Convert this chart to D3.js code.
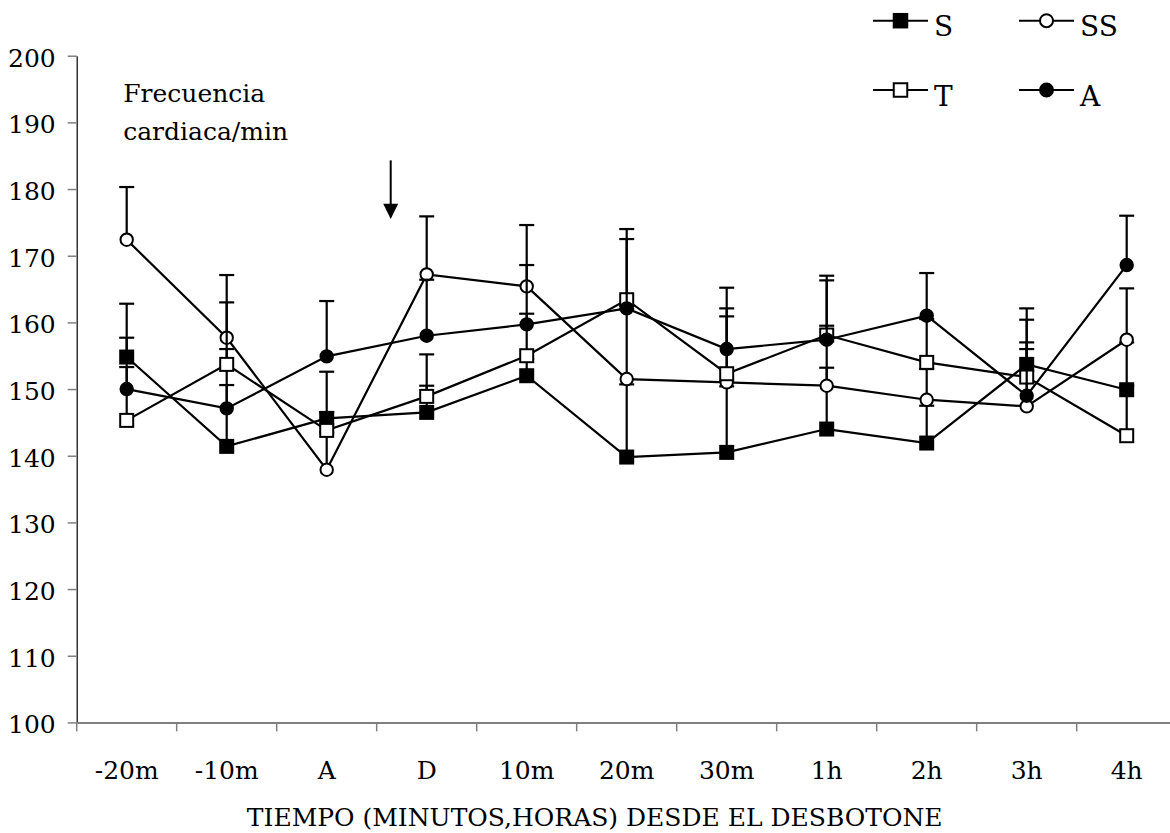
<!DOCTYPE html>
<html>
<head>
<meta charset="utf-8">
<script src="https://cdn.jsdelivr.net/npm/d3@7"></script>
<style>
  html, body { margin: 0; padding: 0; background: #fff; }
  svg { display: block; }
  text { font-family: "DejaVu Serif", "Liberation Serif", serif; fill: #000; }
</style>
</head>
<body>
<svg id="chart" width="1170" height="833"></svg>
<script>
// ---- Data ----
const categories = ["-20m", "-10m", "A", "D", "10m", "20m", "30m", "1h", "2h", "3h", "4h"];
const seriesNames = ["S", "SS", "T", "A"];

const sValues  = [154.8, 141.4, 145.6, 146.5, 152.0, 139.8, 140.5, 144.0, 141.9, 153.7, 149.9];
const ssValues = [172.4, 157.7, 137.9, 167.2, 165.4, 151.5, 151.0, 150.5, 148.4, 147.4, 157.4];
const tValues  = [145.3, 153.7, 143.8, 148.9, 155.0, 163.4, 152.3, 158.1, 154.0, 151.8, 143.0];
const aValues  = [150.0, 147.1, 154.9, 158.0, 159.7, 162.1, 156.0, 157.4, 161.0, 149.0, 168.6];

// upper ends of the error bars
const sTop  = [162.8, 156.0, 146.5, 150.5, 154.5, 150.7, 150.4, 153.2, 147.5, 162.1, 157.0];
const ssTop = [180.3, 167.1, 143.5, 175.9, 174.6, 162.0, 160.9, 159.5, 153.0, 156.0, 165.1];
const tTop  = [153.3, 163.0, 152.6, 155.2, 161.3, 174.0, 162.1, 166.3, 160.5, 160.4, 150.5];
const aTop  = [157.7, 150.6, 163.2, 166.4, 168.6, 172.5, 165.2, 167.0, 167.4, 157.0, 176.0];

const yTicks = [100, 110, 120, 130, 140, 150, 160, 170, 180, 190, 200];
const yDomain = [100, 200];
const annotationLines = ["Frecuencia", "cardiaca/min"];
const xTitle = "TIEMPO (MINUTOS,HORAS) DESDE EL DESBOTONE";

// ---- Setup ----
const svg = d3.select("#chart");
const plotLeft = 76.7, plotBottom = 722.4, plotTop = 55.7;

const x = d3.scaleBand().domain(categories).range([plotLeft, plotLeft + 1100]).padding(0);
const y = d3.scaleLinear().domain(yDomain).range([plotBottom, plotTop]);
const cx = c => x(c) + x.bandwidth() / 2;

const series = [
  { name: "S",  values: sValues,  tops: sTop,  shape: "square", filled: true  },
  { name: "SS", values: ssValues, tops: ssTop, shape: "circle", filled: false },
  { name: "T",  values: tValues,  tops: tTop,  shape: "square", filled: false },
  { name: "A",  values: aValues,  tops: aTop,  shape: "circle", filled: true  }
];

// ---- Axes ----
const yAxis = d3.axisLeft(y).tickValues(yTicks).tickSize(9).tickPadding(12).tickSizeOuter(0);
const gy = svg.append("g").attr("transform", `translate(${plotLeft},0)`).call(yAxis);
gy.select(".domain").attr("stroke", "#000").attr("stroke-width", 1.2);
gy.selectAll(".tick line").attr("stroke", "#808080").attr("stroke-width", 1.5);
gy.selectAll(".tick text")
  .style("font-family", '"DejaVu Serif", serif')
  .attr("font-size", 25)
  .attr("dy", "0.42em");

const xAxis = d3.axisBottom(x).tickSize(0).tickSizeOuter(0);
const gx = svg.append("g").attr("transform", `translate(0,${plotBottom})`).call(xAxis);
gx.select(".domain").attr("stroke", "#808080").attr("stroke-width", 2);
gx.selectAll(".tick text")
  .style("font-family", '"DejaVu Serif", serif')
  .attr("font-size", 25)
  .attr("y", 57)
  .attr("dy", 0);

// boundary ticks between categories
gx.selectAll(".bound")
  .data(categories)
  .enter().append("line")
  .attr("class", "bound")
  .attr("x1", d => x(d)).attr("x2", d => x(d))
  .attr("y1", 0).attr("y2", 9)
  .attr("stroke", "#808080").attr("stroke-width", 1.5);

// x-axis title
svg.append("text")
  .attr("x", x("20m") + 18)
  .attr("y", 826)
  .attr("text-anchor", "middle")
  .attr("font-size", 25)
  .text(xTitle);

// ---- Error bars, lines and markers ----
const capHalf = 7.5;
const lineGen = d3.line().x((d, i) => cx(categories[i])).y(d => y(d));

series.forEach(s => {
  const g = svg.append("g").attr("class", "series-" + s.name);
  const eb = g.append("g");
  s.values.forEach((v, i) => {
    const c = cx(categories[i]);
    eb.append("line")
      .attr("x1", c).attr("x2", c)
      .attr("y1", y(v)).attr("y2", y(s.tops[i]))
      .attr("stroke", "#000").attr("stroke-width", 2.2);
    eb.append("line")
      .attr("x1", c - capHalf).attr("x2", c + capHalf)
      .attr("y1", y(s.tops[i])).attr("y2", y(s.tops[i]))
      .attr("stroke", "#000").attr("stroke-width", 2.2);
  });
  g.append("path")
    .datum(s.values)
    .attr("d", lineGen)
    .attr("fill", "none")
    .attr("stroke", "#000")
    .attr("stroke-width", 2.2);
  if (s.shape === "square") {
    g.selectAll("rect").data(s.values).enter().append("rect")
      .attr("x", (d, i) => cx(categories[i]) - 6.5)
      .attr("y", d => y(d) - 6.5)
      .attr("width", 13).attr("height", 13)
      .attr("fill", s.filled ? "#000" : "#fff")
      .attr("stroke", "#000").attr("stroke-width", 2);
  } else {
    g.selectAll("circle").data(s.values).enter().append("circle")
      .attr("cx", (d, i) => cx(categories[i]))
      .attr("cy", d => y(d))
      .attr("r", 6.2)
      .attr("fill", s.filled ? "#000" : "#fff")
      .attr("stroke", "#000").attr("stroke-width", 2);
  }
});

// ---- Annotation text ----
const ann = svg.append("text")
  .attr("x", x("-20m") + 46.5)
  .attr("font-size", 25);
ann.append("tspan").attr("x", x("-20m") + 46.5).attr("y", y(193.1)).text(annotationLines[0]);
ann.append("tspan").attr("x", x("-20m") + 46.5).attr("y", y(187.4)).text(annotationLines[1]);

// ---- Arrow ----
const ax = x("D") + x.bandwidth() * 0.14;
svg.append("line")
  .attr("x1", ax).attr("x2", ax)
  .attr("y1", y(184.3)).attr("y2", y(176.6))
  .attr("stroke", "#000").attr("stroke-width", 2);
svg.append("path")
  .attr("d", `M${ax - 7.5},${y(177.8)} L${ax + 7.5},${y(177.8)} L${ax},${y(175.5)} Z`)
  .attr("fill", "#000");

// ---- Legend ----
const legendItems = [
  { name: seriesNames[0], shape: "square", filled: true,  col: 0, row: 0 },
  { name: seriesNames[1], shape: "circle", filled: false, col: 1, row: 0 },
  { name: seriesNames[2], shape: "square", filled: false, col: 0, row: 1 },
  { name: seriesNames[3], shape: "circle", filled: true,  col: 1, row: 1 }
];
const legendX = [873, 1019], legendY = [20.7, 90];
legendItems.forEach(it => {
  const lx = legendX[it.col], ly = legendY[it.row];
  const g = svg.append("g");
  g.append("line").attr("x1", lx).attr("x2", lx + 55).attr("y1", ly).attr("y2", ly)
    .attr("stroke", "#000").attr("stroke-width", 2);
  if (it.shape === "square") {
    g.append("rect").attr("x", lx + 27.5 - 6.75).attr("y", ly - 6.75)
      .attr("width", 13.5).attr("height", 13.5)
      .attr("fill", it.filled ? "#000" : "#fff").attr("stroke", "#000").attr("stroke-width", 2);
  } else {
    g.append("circle").attr("cx", lx + 27.5).attr("cy", ly).attr("r", 6.5)
      .attr("fill", it.filled ? "#000" : "#fff").attr("stroke", "#000").attr("stroke-width", 2);
  }
  g.append("text").attr("x", lx + 61).attr("y", ly + 15.5)
    .attr("font-size", 28).text(it.name);
});
</script>
</body>
</html>
